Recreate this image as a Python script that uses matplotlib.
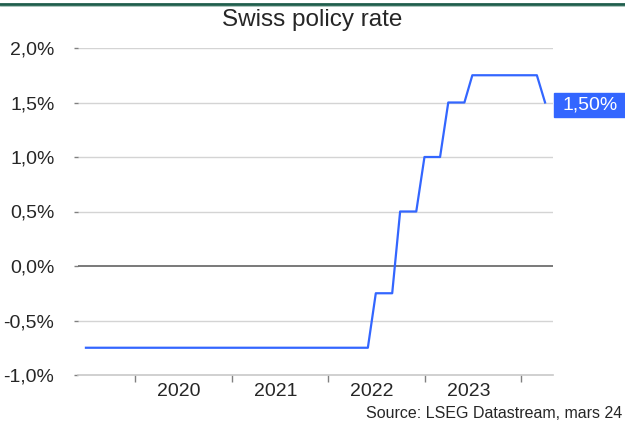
import matplotlib
matplotlib.use('Agg')
import matplotlib.pyplot as plt
import matplotlib.dates as mdates
import matplotlib.transforms as mtransforms
from matplotlib.patches import Rectangle
from matplotlib.lines import Line2D
import pandas as pd

# month-end SNB policy rate, Jun 2019 .. Mar 2024
dates = pd.date_range('2019-06-30', '2024-03-31', freq='ME')
rate = [-0.75, -0.75, -0.75, -0.75, -0.75, -0.75, -0.75,            # 2019
        -0.75, -0.75, -0.75, -0.75, -0.75, -0.75, -0.75, -0.75,
        -0.75, -0.75, -0.75, -0.75,                                  # 2020
        -0.75, -0.75, -0.75, -0.75, -0.75, -0.75, -0.75, -0.75,
        -0.75, -0.75, -0.75, -0.75,                                  # 2021
        -0.75, -0.75, -0.75, -0.75, -0.75, -0.25, -0.25, -0.25,
        0.50, 0.50, 0.50, 1.00,                                      # 2022
        1.00, 1.00, 1.50, 1.50, 1.50, 1.75, 1.75, 1.75,
        1.75, 1.75, 1.75, 1.75,                                      # 2023
        1.75, 1.75, 1.50]                                            # 2024
y_ticks = [-1.0, -0.5, 0.0, 0.5, 1.0, 1.5, 2.0]
y_labels = ['-1,0%', '-0,5%', '0,0%', '0,5%', '1,0%', '1,5%', '2,0%']
year_ticks = ['2020-01-01', '2021-01-01', '2022-01-01', '2023-01-01', '2024-01-01']
year_labels = ['2020', '2021', '2022', '2023']
last_label = '1,50%'

blue = '#3366ff'
txt = '#262626'
plt.rcParams['font.family'] = ['Liberation Sans', 'DejaVu Sans']

fig = plt.figure(figsize=(6.25, 4.24), dpi=100)
ax = fig.add_axes([78 / 625, 1 - 375 / 424, 475 / 625, 327 / 424])

ax.plot(dates, rate, color=blue, lw=1.6, zorder=3)

ax.set_ylim(-1.0, 2.0)
ax.set_xlim(pd.Timestamp('2019-05-31'), pd.Timestamp('2024-04-30'))
ax.set_yticks(y_ticks)
ax.set_yticklabels(y_labels, fontsize=14, color=txt)
for v in y_ticks:
    if v == 0:
        ax.axhline(v, color='#6e6e6e', lw=1.3, zorder=2)
    elif v != -1.0:
        ax.axhline(v, color='#d4d4d4', lw=1.0, zorder=1)

ax.set_xticks(pd.to_datetime(year_ticks))
ax.set_xticklabels([])
ax.set_xticks(pd.to_datetime([f'{y}-06-15' for y in year_labels]), minor=True)
ax.set_xticklabels(year_labels, minor=True, fontsize=14, color=txt)
ax.tick_params(axis='x', which='major', length=5, color='#808080', width=1)
ax.tick_params(axis='x', which='minor', length=0, pad=6)
ax.tick_params(axis='y', length=3, color='#808080', width=1, pad=14)

for s in ['top', 'right', 'left']:
    ax.spines[s].set_visible(False)
ax.spines['bottom'].set_color('#c8c8c8')
ax.spines['bottom'].set_linewidth(1.2)

# value tag at the right
trans = mtransforms.blended_transform_factory(ax.transAxes, ax.transData)
ax.add_patch(Rectangle((1.0025, rate[-1] - 0.13), 72 / 475, 0.22, transform=trans,
                       color=blue, clip_on=False, zorder=4))
ax.text(1.0025 + 36 / 475, rate[-1] - 0.02, last_label, transform=trans, ha='center',
        va='center', color='white', fontsize=14, zorder=5, clip_on=False)

fig.text(0.5, 1 - 20 / 424, 'Swiss policy rate', ha='center', va='center',
         fontsize=17.5, color=txt)
fig.text(622 / 625, 1 - 414 / 424, 'Source: LSEG Datastream, mars 24', ha='right',
         va='center', fontsize=11.5, color=txt)

fig.add_artist(Line2D([0, 1], [1 - 3.5 / 424] * 2, color='#1f5e4c', lw=2))
fig.add_artist(Line2D([0, 1], [1 - 5.5 / 424] * 2, color='#9fbdb3', lw=0.6))

fig.savefig('out.png', dpi=100)
